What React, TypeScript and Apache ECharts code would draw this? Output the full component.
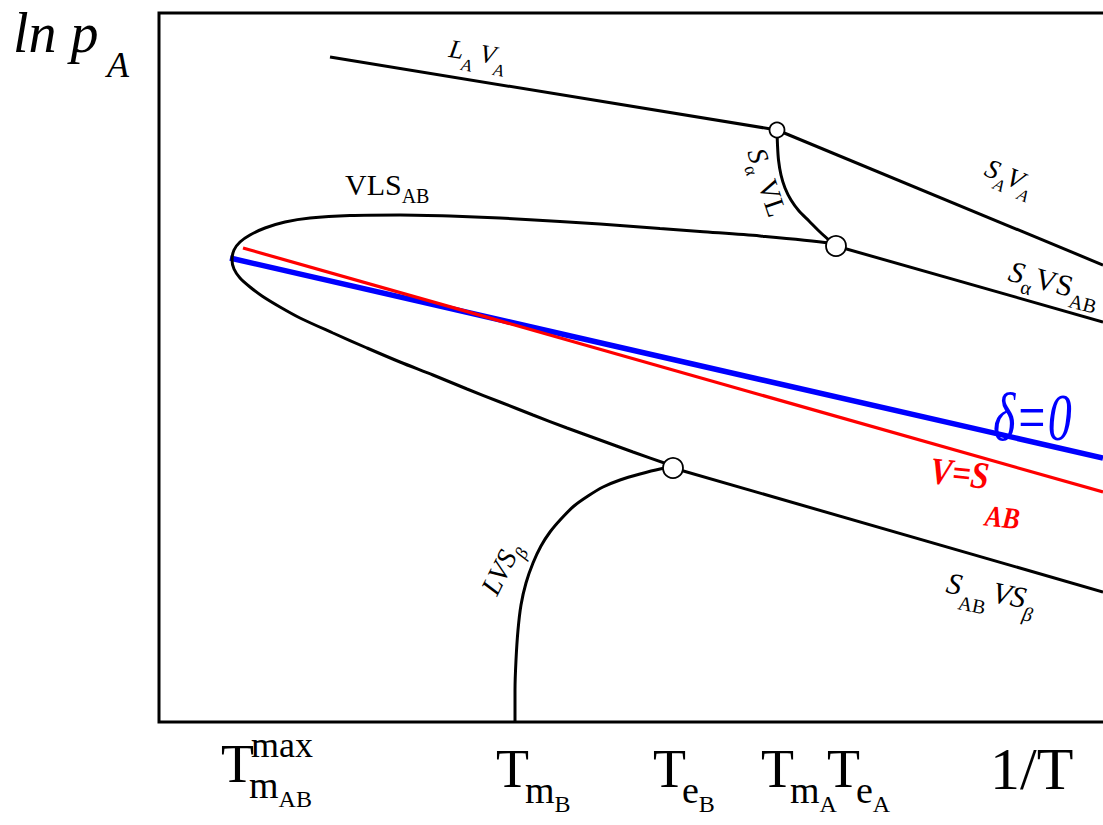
import React, { useEffect, useRef } from 'react';
import * as echarts from 'echarts';

const FF = 'Liberation Serif';
const BASE_SIZE = 24; // glyphs are drawn at this size and scaled up

// ---- data: x = position along 1/T, y = position along ln p_A (plot units) ----
const curveLAVA = [[330, 57], [777, 130]];
const curveSAVA = [[777, 130], [1103, 265]];
const curveSaVL = [[777, 130], [777.5, 145], [778.5, 160], [781, 175], [785, 188], [791, 200], [799, 211], [809, 221], [820, 232], [830, 241], [836, 246]];
const curveVLSAB = [
  [836, 246], [830, 243], [760, 236], [700, 231.5], [660, 228.5], [600, 224], [560, 221.5], [500, 218],
  [450, 216], [400, 215], [350, 215.5], [310, 218], [285, 222], [265, 228], [250, 235], [240, 242],
  [234, 250], [232, 260], [234, 269], [240, 278], [250, 287], [262, 296], [280, 307], [300, 318],
  [333, 333], [367, 348], [400, 362], [433, 375], [467, 389], [500, 402], [533, 415], [567, 428],
  [600, 440], [633, 452], [673, 466],
];
const curveSaVSAB = [[836, 246], [1103, 322]];
const curveLVSb = [
  [515, 722], [515, 690], [516, 660], [518, 630], [521, 605], [526, 583], [533, 563], [541, 546],
  [550, 532], [561, 519], [574, 506], [588, 496], [603, 487], [620, 480], [640, 474], [660, 469], [673, 467],
];
const curveSABVSb = [[673, 468], [1103, 592]];
const lineDelta0 = [[230, 258], [1103, 458]];
const lineVeqSAB = [[243, 248], [1103, 492]];
const nodePoints = [[777, 130], [836, 246], [673, 468]];

const tickPositions = [236, 511, 668, 776, 842];
const tickMain = ['T', 'T', 'T', 'T', 'T'];
const tickSubs = ['m', 'm', 'e', 'm', 'e'];
const tickSubSubs = ['AB', 'B', 'B', 'A', 'A'];
const tickSups = ['max', '', '', '', ''];

// ---- styles ----
const nodeSizes = [15, 20, 20];

type Run = { t: string; s: number; dy?: number; i?: boolean; b?: boolean; x?: number };

let mctx: CanvasRenderingContext2D | null = null;
function fontOf(r: Run, size: number) {
  return `${r.i ? 'italic ' : ''}${r.b ? 'bold ' : ''}${size}px "${FF}"`;
}
function measure(r: Run) {
  const size = Math.min(r.s, BASE_SIZE);
  const k = r.s / size;
  if (!mctx) mctx = document.createElement('canvas').getContext('2d');
  if (!mctx) return r.s * 0.5 * r.t.length;
  mctx.font = fontOf(r, size);
  return mctx.measureText(r.t).width * k;
}

function label(pos: number[], runs: Run[], color = '#000', rotation = 0, scaleY = 1) {
  let cx = 0;
  const children = runs.map((r) => {
    const x = r.x !== undefined ? r.x : cx;
    cx = x + measure(r);
    const size = Math.min(r.s, BASE_SIZE);
    const k = r.s / size;
    return {
      type: 'text',
      x,
      y: (r.dy || 0) - 0.34 * r.s,
      scaleX: k,
      scaleY: k,
      silent: true,
      style: {
        text: r.t,
        fontSize: size,
        fontFamily: FF,
        fontStyle: r.i ? 'italic' : 'normal',
        fontWeight: r.b ? 'bold' : 'normal',
        fill: color,
        align: 'left',
        verticalAlign: 'middle',
      },
    };
  });
  return { type: 'group', x: pos[0], y: pos[1], rotation, scaleY, children, z: 100 };
}

function line(data: number[][], color: string, width: number, z: number, smooth: number | boolean = false) {
  return {
    type: 'line',
    data,
    symbol: 'none',
    showSymbol: false,
    smooth,
    silent: true,
    z,
    lineStyle: { color, width },
  };
}

export default function App() {
  const ref = useRef<HTMLDivElement>(null);
  useEffect(() => {
    const chart = echarts.init(ref.current!, null, { renderer: 'svg' });
    chart.setOption({
      animation: false,
      backgroundColor: '#fff',
      textStyle: { fontFamily: FF },
      grid: {
        left: 159, top: 13, right: -10, bottom: 103,
        show: true, borderColor: '#000', borderWidth: 3, backgroundColor: 'transparent',
        containLabel: false, outerBoundsMode: 'none',
      },
      xAxis: { type: 'value', min: 159, max: 1113, show: false, splitLine: { show: false } },
      yAxis: { type: 'value', min: 13, max: 722, inverse: true, show: false, splitLine: { show: false } },
      series: [
        line(lineDelta0, '#0000ff', 5.5, 2),
        line(lineVeqSAB, '#ff0000', 3.2, 3),
        line(curveLAVA, '#000', 3, 4),
        line(curveSAVA, '#000', 3, 4),
        line(curveSaVL, '#000', 3, 4, 0.3),
        line(curveVLSAB, '#000', 3, 4, 0.3),
        line(curveSaVSAB, '#000', 3, 4),
        line(curveLVSb, '#000', 3, 4, 0.3),
        line(curveSABVSb, '#000', 3, 4),
        {
          type: 'scatter',
          data: nodePoints,
          symbol: 'circle',
          symbolSize: (_v: any, p: any) => nodeSizes[p.dataIndex],
          itemStyle: { color: '#fff', borderColor: '#000', borderWidth: 1.8, opacity: 1 },
          silent: true,
          z: 10,
        },
      ],
    });

    const px = (p: number[]) => chart.convertToPixel({ gridIndex: 0 }, p) as number[];
    const g: any[] = [];

    // y-axis title
    g.push(label([13, 52], [{ t: 'ln p', s: 56, i: true }, { t: 'A', s: 36, i: true, dy: 25, x: 94 }]));
    // x-axis title
    g.push(label([990, 789], [{ t: '1/T', s: 60 }]));

    // x tick labels
    const bottom = px([159, 722])[1];
    tickPositions.forEach((tx, k) => {
      const hasSup = tickSups[k] !== '';
      const base = bottom + (hasSup ? 60 : 65);
      const left = px([tx, 722])[0] - 15;
      const runs: Run[] = [
        { t: tickMain[k], s: 54 },
        { t: tickSubs[k], s: 38, x: hasSup ? 28 : 29, dy: 16 },
        { t: tickSubSubs[k], s: 24, dy: 25 },
      ];
      if (hasSup) runs.push({ t: tickSups[k], s: 36, x: 30, dy: -25 });
      g.push(label([left, base], runs));
    });

    // curve labels
    g.push(label(px([448, 57]), [
      { t: 'L', s: 26, i: true }, { t: 'A', s: 17, i: true, dy: 11 },
      { t: 'V', s: 26, i: true, x: 31 }, { t: 'A', s: 17, i: true, dy: 11 },
    ], '#000', -0.16));
    g.push(label(px([983, 175]), [
      { t: 'S', s: 27, i: true }, { t: 'A', s: 17, i: true, dy: 9 },
      { t: 'V', s: 27, i: true, x: 23 }, { t: 'A', s: 17, i: true, dy: 9 },
    ], '#000', -0.4));
    g.push(label(px([1007, 280]), [
      { t: 'S', s: 30, i: true }, { t: 'α', s: 20, dy: 9 },
      { t: 'VS', s: 30, x: 27 }, { t: 'AB', s: 20, dy: 10 },
    ], '#000', -0.26));
    g.push(label(px([747, 152]), [
      { t: 'S', s: 28, i: true }, { t: 'α', s: 18, dy: 8 },
      { t: 'VL', s: 28, x: 33 },
    ], '#000', -1.25));
    g.push(label(px([345, 195]), [{ t: 'VLS', s: 30 }, { t: 'AB', s: 20, dy: 8 }]));
    g.push(label(px([993, 440]), [{ t: 'δ=0', s: 48, i: true }], '#0000ff', 0, 1.4));
    g.push(label(px([929, 483]), [
      { t: 'V=S', s: 33, i: true, b: true }, { t: 'AB', s: 26, i: true, b: true, dy: 32 },
    ], '#ff0000', -0.1, 1.15));
    g.push(label(px([945, 592]), [
      { t: 'S', s: 30, i: true }, { t: 'AB', s: 20, dy: 14 },
      { t: 'V', s: 30, i: true, x: 47 }, { t: 'S', s: 30, i: true }, { t: 'β', s: 20, i: true, dy: 12 },
    ], '#000', -0.2));
    g.push(label(px([497, 597]), [
      { t: 'LVS', s: 28, i: true }, { t: 'β', s: 18, i: true, dy: 8 },
    ], '#000', 1.1));

    chart.setOption({ graphic: g });
    return () => chart.dispose();
  }, []);
  return <div ref={ref} style={{ position: 'fixed', left: 0, top: 0, width: 1103, height: 825, background: '#fff' }} />;
}
